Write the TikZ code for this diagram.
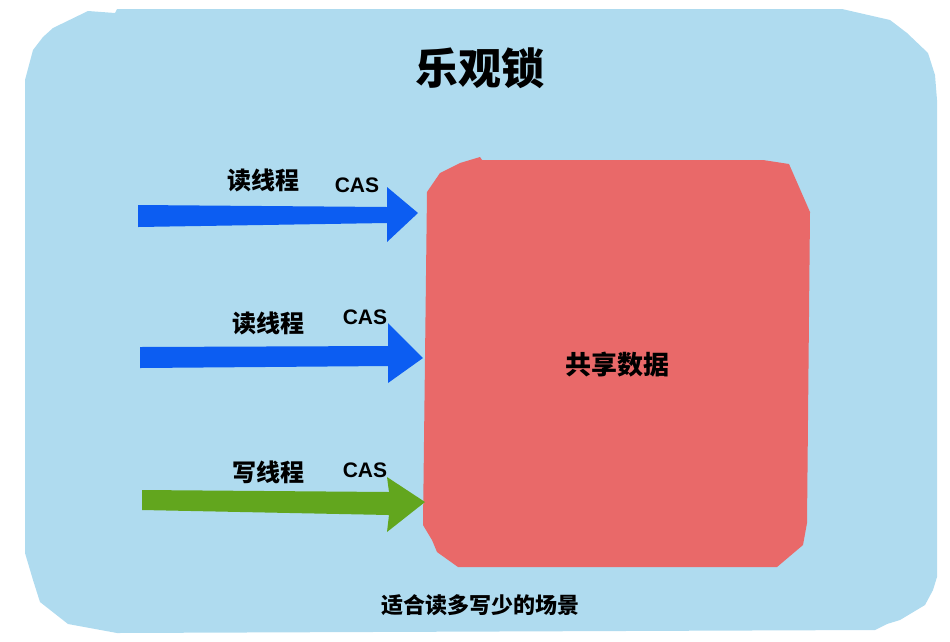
\documentclass[tikz,border=0pt]{standalone}
\usepackage{fontspec}
\setmainfont{Liberation Sans}
\newfontfamily\cjk{Noto Sans CJK SC}
\definecolor{bgblue}{HTML}{AFDBEF}
\definecolor{boxred}{HTML}{E96969}
\definecolor{arrblue}{HTML}{0C5DF2}
\definecolor{arrgreen}{HTML}{62A61E}
\tikzset{
  cjktext/.style={inner sep=0pt, font=\cjk\bfseries\fontsize{#1}{#1}\selectfont},
  castext/.style={inner sep=0pt, font=\bfseries\fontsize{21}{21}\selectfont},
}
\begin{document}
\begin{tikzpicture}[x=1pt,y=-1pt]
\useasboundingbox (0,0) rectangle (950,641);
% background panel
\fill[bgblue] (117,9) -- (842,9) -- (890,20) -- (907,33) -- (928,53) -- (935,75) -- (937,100)
  -- (937,577) -- (933,590) -- (925,605) -- (900,620) -- (887,624) -- (875,630)
  -- (117,633) -- (68,624) -- (40,602) -- (33,580) -- (25,553) -- (25,80)
  -- (33,50) -- (43,37) -- (53,28) -- (88,11) -- (115,13) -- cycle;
% shared data box
\fill[boxred] (427,192) -- (440,173) -- (460,163) -- (480,157) -- (482,160) -- (763,160)
  -- (789,164) -- (810,212) -- (807,523) -- (803,545) -- (777,567) -- (458,567)
  -- (437,552) -- (432,540) -- (423,525) -- cycle;
% arrows
\fill[arrblue] (138,205) -- (387,207) -- (387,187) -- (418,213) -- (387,242) -- (387,223) -- (138,227) -- cycle;
\fill[arrblue] (140,347) -- (388,346) -- (388,323) -- (423,358) -- (388,383) -- (388,366) -- (140,368) -- cycle;
\fill[arrgreen] (142,490) -- (389,492) -- (387,477) -- (425,502) -- (387,532) -- (389,515) -- (142,510) -- cycle;
% texts
\node[cjktext=43] (title) at (480,68) {乐观锁};
\node[cjktext=24] (r1) at (263,180) {读线程};
\node[castext] (c1) at (357,185) {CAS};
\node[cjktext=24] (r2) at (268,323) {读线程};
\node[castext] (c2) at (365,317) {CAS};
\node[cjktext=24] (w1) at (268,472) {写线程};
\node[castext] (c3) at (365,470) {CAS};
\node[cjktext=26] (data) at (617,365) {共享数据};
\node[cjktext=22] (note) at (480,605) {适合读多写少的场景};
\end{tikzpicture}
\end{document}
